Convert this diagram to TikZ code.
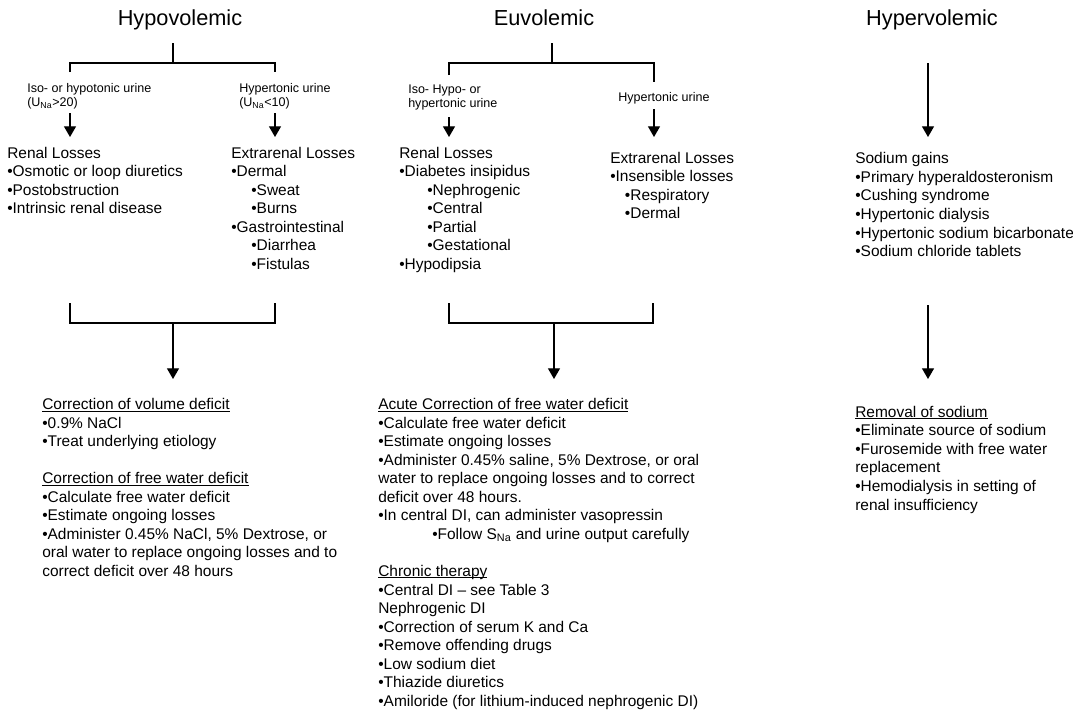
\documentclass[tikz,border=0pt]{standalone}
\usepackage{fontspec}
\setmainfont{Liberation Sans}
\usepackage{tikz}
\usetikzlibrary{arrows.meta,positioning}

\newcommand{\undl}[1]{\setbox0\hbox{#1}\rlap{\rule[-1.3pt]{\wd0}{0.6pt}}\box0}

\begin{document}
\begin{tikzpicture}[
  x=0.75pt, y=-0.75pt,
  title/.style={font=\fontsize{16.3}{19.5}\selectfont, anchor=base, inner sep=0},
  lbl/.style={font=\fontsize{9.4}{10.6}\selectfont, align=left, anchor=north west, inner sep=0},
  blk/.style={font=\fontsize{11.6}{13.9}\selectfont, align=left, anchor=north west, inner sep=0},
  ln/.style={line width=0.9pt},
  arr/.style={-{Triangle[length=8pt, width=9pt]}, line width=0.9pt}
]
  \useasboundingbox (0,0) rectangle (1073,711);

  % Hypovolemic
  \node[title] (hypo) at (180,25) {Hypovolemic};
  \coordinate (hypoT) at (173,43);
  \coordinate (hypoJ) at (173,63);
  \coordinate (hypoL) at (70,72);
  \coordinate (hypoR) at (275,72);
  \node[lbl] (isoA) at (27,83.5) {Iso- or hypotonic urine\\(U\textsubscript{Na}>20)};
  \node[lbl] (hypA) at (239,83.5) {Hypertonic urine\\(U\textsubscript{Na}<10)};
  \coordinate (isoAs) at (70,113);
  \coordinate (isoAe) at (70,137);
  \coordinate (hypAs) at (275,113);
  \coordinate (hypAe) at (275,137);
  \node[blk] (renalA) at (7,146.6) {Renal Losses\\•Osmotic or loop diuretics\\•Postobstruction\\•Intrinsic renal disease};
  \node[blk] (extraA) at (231,146.6) {Extrarenal Losses\\•Dermal\\\hspace*{15pt}•Sweat\\\hspace*{15pt}•Burns\\•Gastrointestinal\\\hspace*{15pt}•Diarrhea\\\hspace*{15pt}•Fistulas};
  \coordinate (hypoBL) at (70,303);
  \coordinate (hypoBR) at (275,303);
  \coordinate (hypoBJ) at (173,323);
  \coordinate (hypoBE) at (173,379);
  \node[blk] (treatA) at (42,398.2) {\undl{Correction of volume deficit}\\•0.9\% NaCl\\•Treat underlying etiology\\[13.9pt]\undl{Correction of free water deficit}\\•Calculate free water deficit\\•Estimate ongoing losses\\•Administer 0.45\% NaCl, 5\% Dextrose, or\\oral water to replace ongoing losses and to\\correct deficit over 48 hours};

  \draw[ln] (hypoT) -- (hypoJ);
  \draw[ln] (hypoL) |- (hypoJ) -| (hypoR);
  \draw[arr] (isoAs) -- (isoAe);
  \draw[arr] (hypAs) -- (hypAe);
  \draw[ln] (hypoBL) |- (hypoBJ) -| (hypoBR);
  \draw[arr] (hypoBJ) -- (hypoBE);

  % Euvolemic
  \node[title] (euvo) at (544,25) {Euvolemic};
  \coordinate (euvoT) at (552,43);
  \coordinate (euvoJ) at (552,63);
  \coordinate (euvoL) at (449,75);
  \coordinate (euvoR) at (654,82);
  \node[lbl] (isoB) at (408,84.5) {Iso- Hypo- or\\hypertonic urine};
  \node[lbl] (hypB) at (618,92.5) {Hypertonic urine};
  \coordinate (isoBs) at (449,117);
  \coordinate (isoBe) at (449,137);
  \coordinate (hypBs) at (654,109);
  \coordinate (hypBe) at (654,137);
  \node[blk] (renalB) at (399,146.6) {Renal Losses\\•Diabetes insipidus\\\hspace*{21pt}•Nephrogenic\\\hspace*{21pt}•Central\\\hspace*{21pt}•Partial\\\hspace*{21pt}•Gestational\\•Hypodipsia};
  \node[blk] (extraB) at (610,151.9) {Extrarenal Losses\\•Insensible losses\\\hspace*{11pt}•Respiratory\\\hspace*{11pt}•Dermal};
  \coordinate (euvoBL) at (449,303);
  \coordinate (euvoBR) at (653,303);
  \coordinate (euvoBJ) at (554,323);
  \coordinate (euvoBE) at (554,379);
  \node[blk] (treatB) at (378,398.2) {\undl{Acute Correction of free water deficit}\\•Calculate free water deficit\\•Estimate ongoing losses\\•Administer 0.45\% saline, 5\% Dextrose, or oral\\water to replace ongoing losses and to correct\\deficit over 48 hours.\\•In central DI, can administer vasopressin\\\hspace*{40.5pt}•Follow S\textsubscript{Na} and urine output carefully\\[13.9pt]\undl{Chronic therapy}\\•Central DI -- see Table 3\\Nephrogenic DI\\•Correction of serum K and Ca\\•Remove offending drugs\\•Low sodium diet\\•Thiazide diuretics\\•Amiloride (for lithium-induced nephrogenic DI)};

  \draw[ln] (euvoT) -- (euvoJ);
  \draw[ln] (euvoL) |- (euvoJ) -| (euvoR);
  \draw[arr] (isoBs) -- (isoBe);
  \draw[arr] (hypBs) -- (hypBe);
  \draw[ln] (euvoBL) |- (euvoBJ) -| (euvoBR);
  \draw[arr] (euvoBJ) -- (euvoBE);

  % Hypervolemic
  \node[title] (hyper) at (932,25) {Hypervolemic};
  \coordinate (hyperS) at (928,63);
  \coordinate (hyperE) at (928,137);
  \node[blk] (gainC) at (855,152.4) {Sodium gains\\•Primary hyperaldosteronism\\•Cushing syndrome\\•Hypertonic dialysis\\•Hypertonic sodium bicarbonate\\•Sodium chloride tablets};
  \coordinate (hyperBS) at (928,305);
  \coordinate (hyperBE) at (928,379);
  \node[blk] (treatC) at (855,405.9) {\undl{Removal of sodium}\\•Eliminate source of sodium\\•Furosemide with free water\\replacement\\•Hemodialysis in setting of\\renal insufficiency};

  \draw[arr] (hyperS) -- (hyperE);
  \draw[arr] (hyperBS) -- (hyperBE);
\end{tikzpicture}
\end{document}
